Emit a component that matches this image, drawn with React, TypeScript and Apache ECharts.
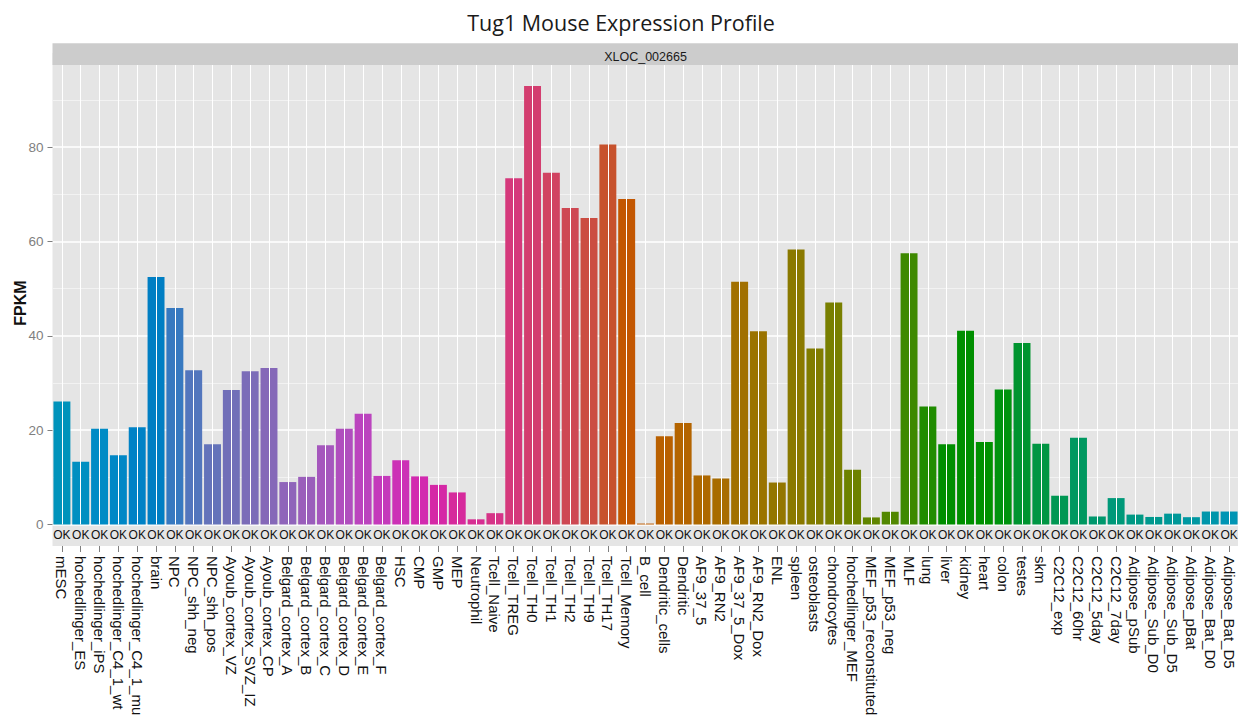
import React, { useEffect, useRef } from "react";
import * as echarts from "echarts";

// Samples in plotting order
const samples = [
  "mESC", "hochedlinger_ES", "hochedlinger_iPS", "hochedlinger_C4_1_wt", "hochedlinger_C4_1_mu",
  "brain", "NPC", "NPC_shh_neg", "NPC_shh_pos", "Ayoub_cortex_VZ", "Ayoub_cortex_SVZ_IZ",
  "Ayoub_cortex_CP", "Belgard_cortex_A", "Belgard_cortex_B", "Belgard_cortex_C", "Belgard_cortex_D",
  "Belgard_cortex_E", "Belgard_cortex_F", "HSC", "CMP", "GMP", "MEP", "Neutrophil", "Tcell_Naive",
  "Tcell_TREG", "Tcell_TH0", "Tcell_TH1", "Tcell_TH2", "Tcell_TH9", "Tcell_TH17", "Tcell_Memory",
  "B_cell", "Dendritic_cells", "Dendritic", "AF9_37_5", "AF9_RN2", "AF9_37_5_Dox", "AF9_RN2_Dox",
  "ENL", "spleen", "osteoblasts", "chondrocytes", "hochedlinger_MEF", "MEF_p53_reconstituted",
  "MEF_p53_neg", "MLF", "lung", "liver", "kidney", "heart", "colon", "testes", "skm", "C2C12_exp",
  "C2C12_60hr", "C2C12_5day", "C2C12_7day", "Adipose_pSub", "Adipose_Sub_D0", "Adipose_Sub_D5",
  "Adipose_pBat", "Adipose_Bat_D0", "Adipose_Bat_D5",
];

// FPKM per sample
const fpkm = [
  26.1, 13.3, 20.3, 14.7, 20.6,
  52.5, 45.9, 32.7, 17.0, 28.5, 32.5,
  33.2, 9.0, 10.1, 16.8, 20.3,
  23.5, 10.3, 13.6, 10.2, 8.4, 6.8, 1.1, 2.4,
  73.4, 93.0, 74.6, 67.1, 65.0, 80.6, 69.0,
  0.2, 18.7, 21.5, 10.4, 9.75, 51.5, 41.0,
  8.9, 58.3, 37.3, 47.1, 11.6, 1.5,
  2.7, 57.5, 25.0, 17.0, 41.1, 17.5, 28.6, 38.5, 17.1, 6.1,
  18.4, 1.7, 5.6, 2.1, 1.6, 2.3,
  1.55, 2.75, 2.75,
];

// Quantification status shown under every bar
const quantStatus = "OK";

const yTicks = [0, 20, 40, 60, 80];
const geneId = "XLOC_002665";
const chartTitle = "Tug1 Mouse Expression Profile";
const yTitle = "FPKM";

// HCL (polar Luv) -> sRGB hex, clipped like R's hcl()
function hcl(h: number, c: number, l: number): string {
  const hr = (h * Math.PI) / 180;
  const U = c * Math.cos(hr);
  const V = c * Math.sin(hr);
  const Xn = 95.047, Yn = 100, Zn = 108.883;
  const den = Xn + 15 * Yn + 3 * Zn;
  const un = (4 * Xn) / den;
  const vn = (9 * Yn) / den;
  const Y = l > 8 ? Yn * Math.pow((l + 16) / 116, 3) : (Yn * l) / 903.3;
  const u = U / (13 * l) + un;
  const v = V / (13 * l) + vn;
  const X = (Y * 9 * u) / (4 * v);
  const Z = (Y * (12 - 3 * u - 20 * v)) / (4 * v);
  const x = X / 100, y = Y / 100, z = Z / 100;
  const lin = [
    3.2406 * x - 1.5372 * y - 0.4986 * z,
    -0.9689 * x + 1.8758 * y + 0.0415 * z,
    0.0557 * x - 0.204 * y + 1.057 * z,
  ];
  const toHex = (t: number) => {
    t = Math.min(1, Math.max(0, t));
    const g = t <= 0.0031308 ? 12.92 * t : 1.055 * Math.pow(t, 1 / 2.4) - 0.055;
    const n = Math.round(Math.min(1, Math.max(0, g)) * 255);
    return n.toString(16).padStart(2, "0");
  };
  return "#" + lin.map(toHex).join("");
}

// Evenly spaced hue wheel starting at a 200 degree offset; chroma is eased
// off through the blue/violet range where full chroma falls out of gamut.
function huePalette(n: number): string[] {
  const out: string[] = [];
  for (let i = 0; i < n; i++) {
    const hue = (15 + (i * 360) / n + 200) % 360;
    const d = Math.abs(hue - 270);
    const bump = d < 60 ? Math.pow(Math.cos((d / 60) * (Math.PI / 2)), 2) : 0;
    out.push(hcl(hue, 100 - 40 * bump, 50));
  }
  return out;
}

const palette = huePalette(samples.length);

export default function App() {
  const ref = useRef<HTMLDivElement>(null);

  useEffect(() => {
    if (!ref.current) return;
    const chart = echarts.init(ref.current, null, { renderer: "svg" });

    const panelLeft = 52.5;
    const panelWidth = 1186;
    const panelTop = 52.9; // value 100 sits under the strip
    const zeroY = 524.5;
    const okBandBottom = 546;

    chart.setOption({
      animation: false,
      backgroundColor: "#ffffff",
      grid: {
        left: panelLeft,
        top: panelTop,
        width: panelWidth,
        height: zeroY - panelTop,
        show: true,
        backgroundColor: "#E5E5E5",
        borderWidth: 0,
        outerBoundsMode: "none",
      },
      xAxis: [
        {
          type: "category",
          data: samples,
          position: "bottom",
          axisLine: { show: false },
          axisTick: { show: false },
          splitLine: { show: false },
          axisLabel: {
            interval: 0,
            margin: 4,
            formatter: () => quantStatus,
            color: "#111111",
            fontFamily: "Liberation Sans",
            fontSize: 12,
          },
        },
        {
          type: "category",
          data: samples,
          position: "bottom",
          offset: okBandBottom - zeroY,
          axisLine: { show: false },
          axisTick: {
            show: true,
            alignWithLabel: true,
            interval: 0,
            length: 6,
            lineStyle: { color: "#7F7F7F", width: 1 },
          },
          splitLine: { show: false },
          axisLabel: {
            interval: 0,
            rotate: -90,
            margin: 10,
            color: "#111111",
            fontFamily: "Liberation Sans",
            fontSize: 15,
          },
        },
      ],
      yAxis: {
        type: "value",
        min: 0,
        max: 100,
        interval: 20,
        axisLine: { show: false },
        axisTick: {
          show: true,
          length: 5,
          customValues: yTicks,
          lineStyle: { color: "#7F7F7F", width: 1 },
        },
        axisLabel: {
          customValues: yTicks,
          formatter: (v: number) => (yTicks.includes(v) ? String(v) : ""),
          margin: 9,
          color: "#7F7F7F",
          fontFamily: "Liberation Sans",
          fontSize: 13.5,
        },
        splitLine: { show: true, lineStyle: { color: "#FFFFFF", width: 1.6 } },
        minorTick: { show: false, splitNumber: 2 },
        minorSplitLine: { show: true, lineStyle: { color: "#F2F2F2", width: 1.2 } },
      },
      series: [
        {
          // vertical grid lines at each sample
          type: "line",
          xAxisIndex: 0,
          data: [],
          z: 1,
          silent: true,
          markLine: {
            silent: true,
            symbol: ["none", "none"],
            label: { show: false },
            lineStyle: { color: "#FFFFFF", width: 1, type: "solid" },
            emphasis: { disabled: true },
            data: samples.map((s) => ({ xAxis: s })),
          },
        },
        {
          type: "bar",
          xAxisIndex: 0,
          data: fpkm,
          barWidth: "90%",
          z: 2,
          itemStyle: {
            color: (p: any) => palette[p.dataIndex],
          },
        },
      ],
      graphic: [
        {
          type: "rect",
          z: -1,
          silent: true,
          shape: { x: panelLeft, y: zeroY, width: panelWidth, height: okBandBottom - zeroY },
          style: { fill: "#E5E5E5" },
        },
        {
          type: "rect",
          z: 100,
          silent: true,
          shape: { x: panelLeft, y: 43.3, width: panelWidth, height: 65 - 43.3 },
          style: { fill: "#CCCCCC" },
        },
        {
          type: "text",
          z: 101,
          silent: true,
          x: panelLeft + panelWidth / 2,
          y: 57,
          style: {
            text: geneId,
            fill: "#1A1A1A",
            font: "12.5px 'Liberation Sans'",
            textAlign: "center",
            textVerticalAlign: "middle",
          },
        },
        {
          type: "text",
          z: 101,
          silent: true,
          x: 621,
          y: 22,
          style: {
            text: chartTitle,
            fill: "#1A1A1A",
            font: "21.5px 'Open Sans'",
            textAlign: "center",
            textVerticalAlign: "middle",
          },
        },
        {
          type: "text",
          z: 101,
          silent: true,
          x: 20,
          y: 303,
          rotation: Math.PI / 2,
          style: {
            text: yTitle,
            fill: "#111111",
            font: "bold 16px 'Liberation Sans'",
            textAlign: "center",
            textVerticalAlign: "middle",
          },
        },
      ],
    });

    return () => chart.dispose();
  }, []);

  return (
    <div
      ref={ref}
      style={{ position: "fixed", left: 0, top: 0, width: 1238, height: 717 }}
    />
  );
}
